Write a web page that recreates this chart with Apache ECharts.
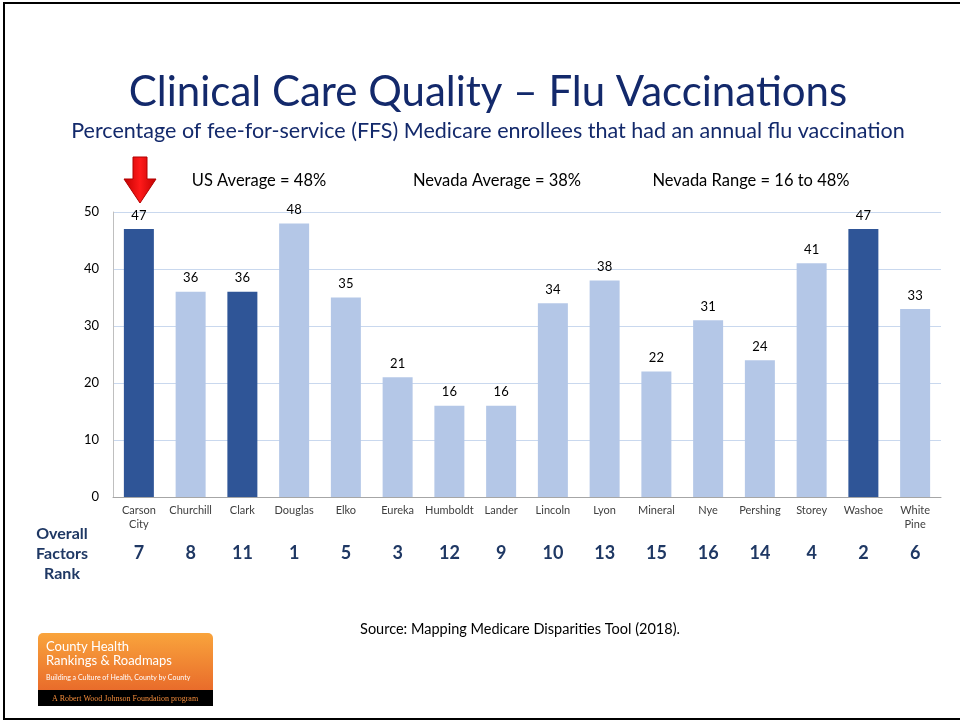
<!DOCTYPE html>
<html>
<head>
<meta charset="utf-8">
<script src="https://cdn.jsdelivr.net/npm/echarts@6/dist/echarts.min.js"></script>
<style>
html,body{margin:0;padding:0;background:#fff;}
#chart{width:960px;height:721px;}
</style>
</head>
<body>
<div id="chart"></div>
<script>
var counties = ["Carson\nCity","Churchill","Clark","Douglas","Elko","Eureka","Humboldt","Lander","Lincoln","Lyon","Mineral","Nye","Pershing","Storey","Washoe","White\nPine"];
var fluPct = [47,36,36,48,35,21,16,16,34,38,22,31,24,41,47,33];
var ranks = ["7","8","11","1","5","3","12","9","10","13","15","16","14","4","2","6"];
var highlighted = ["Carson\nCity","Clark","Washoe"];
var yTicks = {min:0, max:50, interval:10};

var FONT = "Lato, 'Open Sans', sans-serif";
var NAVY = "#13296B";
var DARK = "#2F5597";
var LIGHT = "#B4C7E7";

var chart = echarts.init(document.getElementById('chart'), null, {renderer:'canvas'});
var option = {
  backgroundColor: '#fff',
  animation: false,
  textStyle: {fontFamily: FONT},
  grid: {left:113, right:19, top:212, bottom:224},
  xAxis: [{
    type:'category',
    data: counties,
    axisLine:{lineStyle:{color:'#A6A6A6', width:1}},
    axisTick:{show:false},
    axisLabel:{color:'#404040', fontSize:11, margin:6, lineHeight:14, interval:0, fontFamily:FONT}
  },{
    type:'category',
    data: ranks,
    position:'bottom',
    offset:40,
    axisLine:{show:false},
    axisTick:{show:false},
    axisLabel:{color:'#1F3864', fontSize:18, fontWeight:'bold', margin:7, interval:0, fontFamily:FONT}
  }],
  yAxis: {
    type:'value',
    min: yTicks.min, max: yTicks.max, interval: yTicks.interval,
    axisLine:{show:true, lineStyle:{color:'#BFBFBF'}},
    axisTick:{show:false},
    axisLabel:{color:'#000', fontSize:13, margin:14, fontFamily:FONT},
    splitLine:{lineStyle:{color:'#C9D8EE', width:1}}
  },
  series: [{
    type:'bar',
    xAxisIndex:0,
    barWidth:30,
    data: fluPct.map(function(v,i){
      return {value:v, itemStyle:{color: highlighted.indexOf(counties[i])>=0 ? DARK : LIGHT}};
    }),
    label:{show:true, position:'top', distance:7, color:'#000', fontSize:13, fontFamily:FONT}
  }],
  graphic: [
    // slide border
    {type:'line', shape:{x1:3,y1:3,x2:960,y2:3}, style:{stroke:'#000', lineWidth:2}},
    {type:'line', shape:{x1:4,y1:3,x2:4,y2:719}, style:{stroke:'#000', lineWidth:2}},
    {type:'line', shape:{x1:3,y1:719,x2:960,y2:719}, style:{stroke:'#000', lineWidth:2}},
    // titles
    {type:'text', x:488, y:92, style:{text:'Clinical Care Quality – Flu Vaccinations', fill:NAVY, font:'42px '+FONT, align:'center', verticalAlign:'middle'}},
    {type:'text', x:488, y:131, style:{text:'Percentage of fee-for-service (FFS) Medicare enrollees that had an annual flu vaccination', fill:NAVY, font:'21.5px '+FONT, align:'center', verticalAlign:'middle'}},
    // annotations
    {type:'text', x:259, y:181, style:{text:'US Average = 48%', fill:'#000', font:'16.5px '+FONT, align:'center', verticalAlign:'middle'}},
    {type:'text', x:497, y:181, style:{text:'Nevada Average = 38%', fill:'#000', font:'16.5px '+FONT, align:'center', verticalAlign:'middle'}},
    {type:'text', x:751, y:181, style:{text:'Nevada Range = 16 to 48%', fill:'#000', font:'16.5px '+FONT, align:'center', verticalAlign:'middle'}},
    // red arrow
    {type:'polygon', shape:{points:[[133,157],[147,157],[147,179],[156,179],[140,203],[124,179],[133,179]]},
      style:{fill:{type:'linear',x:0,y:0,x2:1,y2:0,colorStops:[{offset:0,color:'#C00000'},{offset:0.5,color:'#FF1A1A'},{offset:1,color:'#C00000'}]}, stroke:'#B00000', lineWidth:1}},
    // row label
    {type:'text', x:62, y:554, style:{text:'Overall\nFactors\nRank', fill:'#1F3864', font:'bold 16px '+FONT, align:'center', verticalAlign:'middle', lineHeight:20}},
    // source
    {type:'text', x:520, y:629, style:{text:'Source: Mapping Medicare Disparities Tool (2018).', fill:'#000', font:'14.5px '+FONT, align:'center', verticalAlign:'middle'}},
    // logo
    {type:'rect', shape:{x:38,y:633,width:175,height:60,r:[5,5,0,0]},
      style:{fill:{type:'linear',x:0,y:0,x2:0,y2:1,colorStops:[{offset:0,color:'#F9A43C'},{offset:1,color:'#E8692A'}]}}},
    {type:'rect', shape:{x:38,y:690,width:175,height:16}, style:{fill:'#000'}},
    {type:'text', x:46, y:647, style:{text:'County Health', fill:'#fff', font:'13px '+FONT, verticalAlign:'middle'}},
    {type:'text', x:46, y:661, style:{text:'Rankings & Roadmaps', fill:'#fff', font:'13px '+FONT, verticalAlign:'middle'}},
    {type:'text', x:46, y:678, style:{text:'Building a Culture of Health, County by County', fill:'#fff', font:'7px '+FONT, verticalAlign:'middle'}},
    {type:'text', x:125, y:699, style:{text:'A Robert Wood Johnson Foundation program', fill:'#F08A3A', font:'8px "Liberation Serif", serif', align:'center', verticalAlign:'middle'}}
  ]
};
chart.setOption(option);
</script>
</body>
</html>
